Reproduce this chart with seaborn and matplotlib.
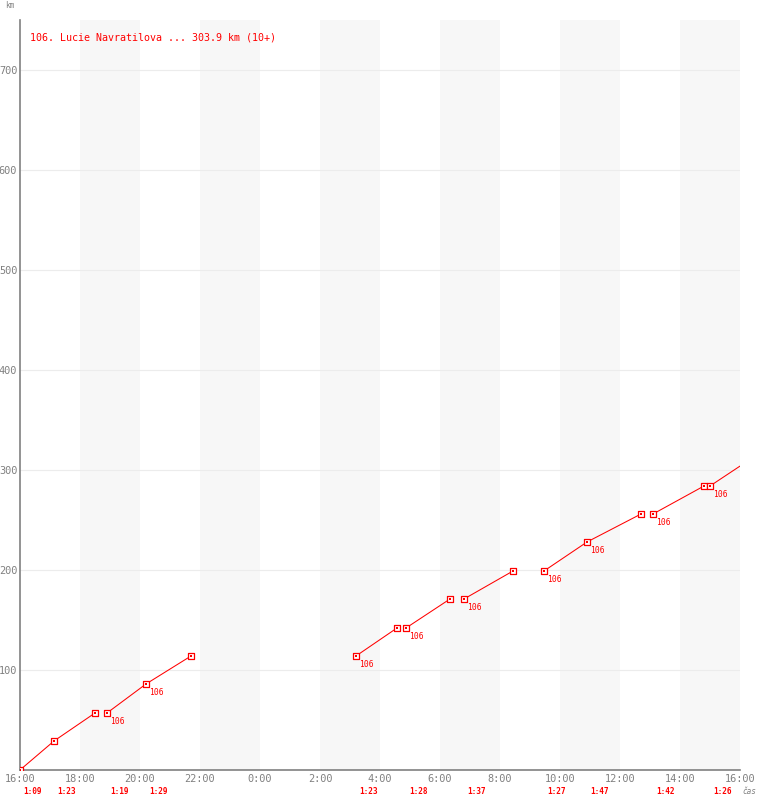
import numpy as np
import pandas as pd
from matplotlib import pyplot as plt
import seaborn as sns

# track points (clock time, km, segment id); last point has no marker
times = ["16:00", "17:08", "18:30", "18:54", "20:12", "21:42",
         "03:12", "04:34", "04:52", "06:20", "06:48", "08:26",
         "09:28", "10:54", "12:42", "13:06", "14:48", "15:00", "16:00"]
km = [0, 29, 57, 57, 86, 114,
      114, 142, 142, 171, 171, 199,
      199, 228, 256, 256, 284, 284, 303.9]
segment = [1, 1, 1, 2, 2, 2, 3, 3, 4, 4, 5, 5, 6, 6, 6, 7, 7, 8, 8]

# lap times shown under the axis
lap_start = ["16:00", "17:08", "18:54", "20:12", "03:12", "04:52",
             "06:48", "09:28", "10:54", "13:06", "15:00"]
lap_time = ["1:09", "1:23", "1:19", "1:29", "1:23", "1:28",
            "1:37", "1:27", "1:47", "1:42", "1:26"]

# points with the start number tag
tag_times = ["18:54", "20:12", "03:12", "04:52", "06:48",
             "09:28", "10:54", "13:06", "15:00"]
tag_km = [57, 86, 114, 142, 171, 199, 228, 256, 284]

x_ticks = ["16:00", "18:00", "20:00", "22:00", "0:00", "2:00", "4:00",
           "6:00", "8:00", "10:00", "12:00", "14:00", "16:00"]
y_ticks = [100, 200, 300, 400, 500, 600, 700]

title = "106. Lucie Navratilova ... 303.9 km (10+)"


def to_hours(t):
    hh, mm = t.split(':')
    return (int(hh) + int(mm) / 60 - 16) % 24


hours = [to_hours(t) for t in times]
hours[-1] = 24.0

df = pd.DataFrame({'h': hours, 'km': km, 'seg': segment})
df['mark'] = True
df.loc[df.index[-1], 'mark'] = False

sns.set_style('white')
plt.rcParams['font.family'] = ['DejaVu Sans Mono', 'DejaVu Sans']

fig = plt.figure(figsize=(7.6, 8), dpi=100)
ax = fig.add_axes([20 / 760, 30 / 800, 720 / 760, 750 / 800])

red = '#ff0000'
gray = '#808080'

for start in range(2, 24, 4):
    ax.axvspan(start, start + 2, color='#f7f7f7', zorder=0, lw=0)
for yv in y_ticks:
    ax.axhline(yv, color='#ececec', lw=0.8, zorder=1)

sns.lineplot(data=df, x='h', y='km', units='seg', estimator=None,
             color=red, lw=0.75, sort=False, legend=False, ax=ax, zorder=3)
marks = df[df['mark']]
sns.scatterplot(data=marks, x='h', y='km', marker='s', s=19,
                facecolors='white', edgecolor=red, linewidth=0.9,
                ax=ax, zorder=4, legend=False)
sns.scatterplot(data=marks, x='h', y='km', marker='s', s=1.0,
                color=red, linewidth=0, ax=ax, zorder=5, legend=False)

for t, k in zip(tag_times, tag_km):
    ax.annotate('106', (to_hours(t), k), xytext=(2.5, -3),
                textcoords='offset points', ha='left', va='top',
                fontsize=5.8, color=red, zorder=6)

trans = ax.get_xaxis_transform()
for t, lt in zip(lap_start, lap_time):
    ax.text(to_hours(t) + 0.1, -0.0293, lt, transform=trans,
            ha='left', va='center', fontsize=5.6, color=red,
            fontweight='bold')

ax.set_xlim(0, 24)
ax.set_ylim(0, 750)
ax.set_xticks(np.arange(0, 25, 2))
ax.set_xticklabels(x_ticks)
ax.set_yticks(y_ticks)
ax.tick_params(axis='both', length=0, labelsize=7.4, labelcolor=gray)
ax.tick_params(axis='x', pad=3)
ax.tick_params(axis='y', pad=2)
ax.set_xlabel('')
ax.set_ylabel('')

for side in ['top', 'right']:
    ax.spines[side].set_visible(False)
for side in ['left', 'bottom']:
    ax.spines[side].set_color(gray)
    ax.spines[side].set_linewidth(1.2)

ax.text(10 / 720, 1 - 18 / 750, title, transform=ax.transAxes,
        ha='left', va='center', fontsize=7.2, color=red)
fig.text(5 / 760, 1 - 6 / 800, 'km', ha='left', va='center',
         fontsize=5.6, color=gray)
fig.text(742 / 760, 1 - 792 / 800, 'čas', ha='left', va='center',
         fontsize=5.6, color=gray, style='italic')

fig.savefig('out.png', dpi=100)
